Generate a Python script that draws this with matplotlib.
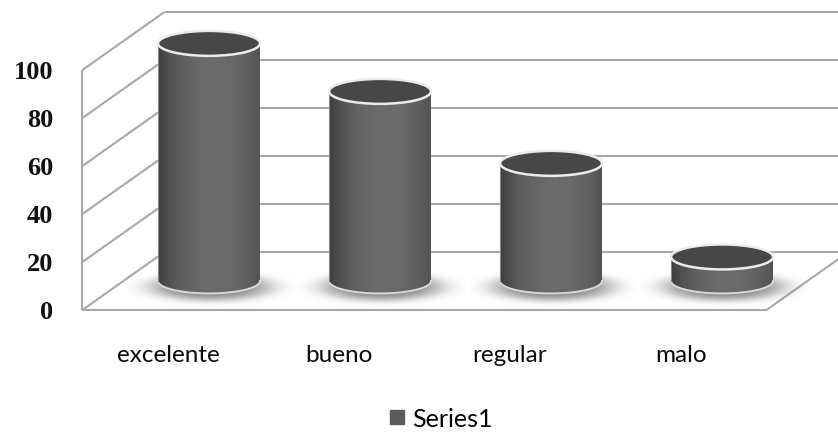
import numpy as np
import matplotlib
matplotlib.use("Agg")
import matplotlib.pyplot as plt
from matplotlib.patches import Ellipse, PathPatch
from matplotlib.path import Path
from matplotlib.lines import Line2D

# Chart data
categories = ["excelente", "bueno", "regular", "malo"]
values = [99, 79, 49, 10]
y_ticks = [0, 20, 40, 60, 80, 100]
series_name = "Series1"

# Oblique projection of the depth axis (category units, value units)
DEPTH_X = 0.48
DEPTH_Y = 24.2

fig = plt.figure(figsize=(8.38, 4.35), dpi=100)
ax = fig.add_axes([0, 0, 1, 1])
ax.axis("off")
XLIM = (-0.982, 3.918)
YLIM = (-51.7, 129.6)

grid_kw = dict(color="#a8a8a8", lw=1.5, solid_capstyle="butt", zorder=1)
x0, x1 = -0.5, len(categories) - 0.5
top = max(y_ticks)

# walls and floor
for t in y_ticks:
    ax.plot([x0 + DEPTH_X, x1 + DEPTH_X + 0.3], [t + DEPTH_Y] * 2, **grid_kw)
    ax.plot([x0, x0 + DEPTH_X], [t, t + DEPTH_Y], **grid_kw)
ax.plot([x0, x0], [0, top], **grid_kw)
ax.plot([x0, x1], [0, 0], **grid_kw)
ax.plot([x1, x1 + DEPTH_X], [0, DEPTH_Y], **grid_kw)

# cylinder geometry
hw = 0.298          # half width in category units
ry = 5.2            # half height of the end ellipses in value units
base = DEPTH_Y / 2

# horizontal shading profile of the cylinder body
u = np.linspace(-1, 1, 256)
prof = 0.22 + 0.20 * np.clip(1 - ((u - 0.12) / 1.12) ** 2, 0, 1) ** 0.7
body_rgb = np.dstack([prof, prof, prof]).reshape(1, -1, 3)

# soft shadow texture (super-gaussian blob)
gx = np.linspace(-1, 1, 160)
gy = np.linspace(-1, 1, 80)
GX, GY = np.meshgrid(gx, gy)
r2 = (GX / 0.8) ** 2 + (GY / 0.7) ** 2
shadow = np.zeros(GX.shape + (4,))
shadow[..., :3] = 0.38
shadow[..., 3] = 0.75 * np.exp(-1.5 * r2 ** 2)

t_arc = np.linspace(np.pi, 2 * np.pi, 80)
for i, v in enumerate(values):
    cx = i + DEPTH_X / 2
    ytop = base + v

    # shadow on the floor
    sw, sh = 0.49, 9.0
    sx, sy = cx + 0.01, base - 2.6
    ax.imshow(shadow, extent=[sx - sw, sx + sw, sy - sh, sy + sh],
              aspect="auto", interpolation="bilinear", zorder=2, origin="lower")

    # body outline: left side, top edge, right side, lower arc of the base
    arc_x = cx + hw * np.cos(t_arc)
    arc_y = base + ry * np.sin(t_arc)
    verts = [(cx - hw, ytop)] + list(zip(arc_x, arc_y)) + [(cx + hw, ytop), (cx - hw, ytop)]
    codes = [Path.MOVETO] + [Path.LINETO] * (len(verts) - 2) + [Path.CLOSEPOLY]
    body = PathPatch(Path(verts, codes), facecolor="none", edgecolor="none", zorder=3)
    ax.add_patch(body)
    img = ax.imshow(body_rgb, extent=[cx - hw, cx + hw, base - ry, ytop],
                    aspect="auto", interpolation="bilinear", zorder=3)
    img.set_clip_path(body)

    # light rim along the base and a faint left edge
    ax.plot(arc_x, arc_y, color="#dcdcdc", lw=1.3, zorder=4)
    ax.plot([cx - hw, cx - hw], [base, ytop], color="#8a8a8a", lw=0.8, zorder=4)

    # top cap
    cap = Ellipse((cx, ytop), 2 * hw, 2 * ry, facecolor="#474747",
                  edgecolor="#ececec", lw=1.8, zorder=5)
    ax.add_patch(cap)

# value axis labels
for t in y_ticks:
    ax.text(x0 - 0.172, t - 0.8, str(t), ha="right", va="center",
            family="Liberation Serif", fontweight="bold", fontsize=19, color="#111111")

# category labels
for i, c in enumerate(categories):
    ax.text(i, -21.3, c, ha="center", va="baseline",
            family="Lato", fontsize=17.5, color="#0a0a0a")

handle = Line2D([], [], marker="s", ls="none", color="#5b5b5b", markersize=9.5)
ax.legend([handle], [series_name], loc="center", bbox_to_anchor=(0.523, 0.036),
          frameon=False, handletextpad=0.1, handlelength=1.0,
          borderpad=0.1, prop=dict(family="Lato", size=18))

ax.set_xlim(*XLIM)
ax.set_ylim(*YLIM)
fig.savefig("out.png", dpi=100, facecolor="white")
